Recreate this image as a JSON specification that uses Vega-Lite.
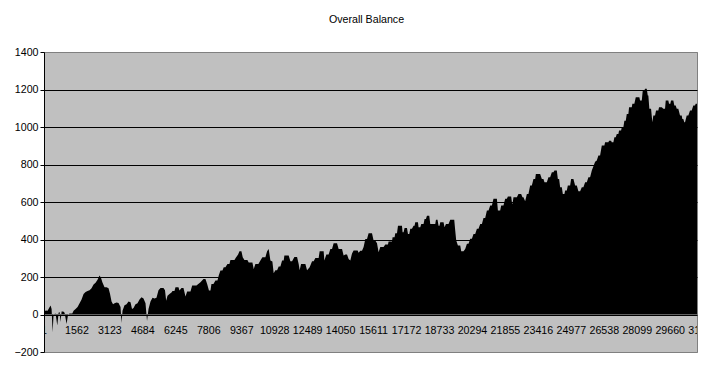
{
  "$schema": "https://vega.github.io/schema/vega-lite/v6.json",
  "width": 653,
  "height": 300,
  "autosize": {"type": "none"},
  "padding": {"left": 44, "top": 52, "right": 6, "bottom": 20},
  "background": "white",
  "title": {"text": "Overall Balance", "anchor": "middle", "frame": "group", "font": "Liberation Sans", "fontSize": 10.67, "fontWeight": "normal", "color": "black", "offset": 20, "dx": -4},
  "config": {"view": {"fill": "#C0C0C0", "stroke": "#808080", "strokeWidth": 1}, "font": "Liberation Sans"},
  "datasets": {
    "balance": [
      {"trade":1,"balance":10},{"trade":77,"balance":21},{"trade":171,"balance":20},{"trade":242,"balance":35},{"trade":313,"balance":48},{"trade":361,"balance":30},{"trade":408,"balance":-94},{"trade":455,"balance":0},{"trade":550,"balance":5},{"trade":630,"balance":-59},{"trade":692,"balance":10},{"trade":739,"balance":14},{"trade":787,"balance":-40},{"trade":834,"balance":16},{"trade":914,"balance":16},{"trade":976,"balance":10},{"trade":1070,"balance":-50},{"trade":1141,"balance":0},{"trade":1212,"balance":5},{"trade":1340,"balance":5},{"trade":1402,"balance":20},{"trade":1496,"balance":30},{"trade":1591,"balance":40},{"trade":1686,"balance":60},{"trade":1780,"balance":80},{"trade":1875,"balance":110},{"trade":1970,"balance":120},{"trade":2064,"balance":125},{"trade":2159,"balance":130},{"trade":2253,"balance":140},{"trade":2348,"balance":160},{"trade":2443,"balance":170},{"trade":2537,"balance":185},{"trade":2632,"balance":208},{"trade":2703,"balance":195},{"trade":2774,"balance":170},{"trade":2869,"balance":145},{"trade":2963,"balance":145},{"trade":3058,"balance":140},{"trade":3129,"balance":110},{"trade":3200,"balance":70},{"trade":3271,"balance":55},{"trade":3342,"balance":60},{"trade":3436,"balance":64},{"trade":3531,"balance":62},{"trade":3626,"balance":40},{"trade":3673,"balance":-45},{"trade":3720,"balance":20},{"trade":3815,"balance":50},{"trade":3910,"balance":55},{"trade":4004,"balance":70},{"trade":4099,"balance":65},{"trade":4170,"balance":30},{"trade":4241,"balance":35},{"trade":4335,"balance":55},{"trade":4430,"balance":60},{"trade":4525,"balance":80},{"trade":4619,"balance":92},{"trade":4714,"balance":85},{"trade":4809,"balance":60},{"trade":4880,"balance":-35},{"trade":4951,"balance":30},{"trade":5045,"balance":70},{"trade":5140,"balance":90},{"trade":5235,"balance":85},{"trade":5329,"balance":90},{"trade":5424,"balance":130},{"trade":5518,"balance":142},{"trade":5660,"balance":142},{"trade":5731,"balance":130},{"trade":5788,"balance":74},{"trade":5850,"balance":100},{"trade":5944,"balance":110},{"trade":6039,"balance":117},{"trade":6086,"balance":125},{"trade":6181,"balance":125},{"trade":6228,"balance":146},{"trade":6370,"balance":146},{"trade":6418,"balance":128},{"trade":6512,"balance":142},{"trade":6607,"balance":142},{"trade":6702,"balance":96},{"trade":6782,"balance":123},{"trade":6938,"balance":123},{"trade":7019,"balance":155},{"trade":7222,"balance":155},{"trade":7411,"balance":172},{"trade":7553,"balance":190},{"trade":7648,"balance":190},{"trade":7728,"balance":163},{"trade":7814,"balance":128},{"trade":7885,"balance":128},{"trade":7932,"balance":163},{"trade":8026,"balance":163},{"trade":8121,"balance":181},{"trade":8216,"balance":181},{"trade":8277,"balance":208},{"trade":8358,"balance":235},{"trade":8452,"balance":235},{"trade":8514,"balance":252},{"trade":8594,"balance":252},{"trade":8689,"balance":270},{"trade":8784,"balance":270},{"trade":8831,"balance":291},{"trade":9020,"balance":291},{"trade":9101,"balance":306},{"trade":9195,"balance":320},{"trade":9257,"balance":337},{"trade":9351,"balance":337},{"trade":9413,"balance":306},{"trade":9493,"balance":291},{"trade":9635,"balance":291},{"trade":9697,"balance":278},{"trade":9872,"balance":278},{"trade":9934,"balance":243},{"trade":10014,"balance":270},{"trade":10156,"balance":270},{"trade":10251,"balance":288},{"trade":10345,"balance":306},{"trade":10487,"balance":306},{"trade":10568,"balance":337},{"trade":10643,"balance":350},{"trade":10724,"balance":288},{"trade":10818,"balance":283},{"trade":10880,"balance":220},{"trade":10960,"balance":236},{"trade":11041,"balance":236},{"trade":11117,"balance":256},{"trade":11197,"balance":256},{"trade":11277,"balance":288},{"trade":11353,"balance":288},{"trade":11386,"balance":315},{"trade":11590,"balance":315},{"trade":11670,"balance":284},{"trade":11751,"balance":284},{"trade":11859,"balance":307},{"trade":11987,"balance":307},{"trade":12063,"balance":270},{"trade":12110,"balance":236},{"trade":12176,"balance":270},{"trade":12380,"balance":270},{"trade":12460,"balance":236},{"trade":12583,"balance":252},{"trade":12697,"balance":284},{"trade":12773,"balance":284},{"trade":12853,"balance":302},{"trade":13009,"balance":302},{"trade":13057,"balance":337},{"trade":13246,"balance":337},{"trade":13279,"balance":288},{"trade":13374,"balance":320},{"trade":13482,"balance":320},{"trade":13563,"balance":350},{"trade":13643,"balance":350},{"trade":13719,"balance":380},{"trade":13880,"balance":380},{"trade":13956,"balance":350},{"trade":14117,"balance":350},{"trade":14192,"balance":315},{"trade":14273,"balance":320},{"trade":14353,"balance":320},{"trade":14429,"balance":296},{"trade":14509,"balance":288},{"trade":14590,"balance":326},{"trade":14665,"balance":342},{"trade":14855,"balance":342},{"trade":14902,"balance":330},{"trade":14982,"balance":340},{"trade":15063,"balance":340},{"trade":15139,"balance":360},{"trade":15219,"balance":403},{"trade":15300,"balance":403},{"trade":15375,"balance":434},{"trade":15536,"balance":434},{"trade":15612,"balance":395},{"trade":15692,"balance":395},{"trade":15773,"balance":380},{"trade":15848,"balance":332},{"trade":15929,"balance":360},{"trade":16085,"balance":360},{"trade":16166,"balance":373},{"trade":16293,"balance":373},{"trade":16322,"balance":389},{"trade":16483,"balance":389},{"trade":16511,"balance":412},{"trade":16606,"balance":412},{"trade":16639,"balance":434},{"trade":16719,"balance":434},{"trade":16767,"balance":474},{"trade":16956,"balance":474},{"trade":16984,"balance":439},{"trade":17032,"balance":439},{"trade":17079,"balance":462},{"trade":17192,"balance":462},{"trade":17240,"balance":430},{"trade":17301,"balance":430},{"trade":17349,"balance":457},{"trade":17429,"balance":457},{"trade":17505,"balance":474},{"trade":17552,"balance":474},{"trade":17585,"balance":492},{"trade":17713,"balance":492},{"trade":17741,"balance":466},{"trade":17822,"balance":466},{"trade":17869,"balance":483},{"trade":17978,"balance":483},{"trade":18025,"balance":510},{"trade":18091,"balance":510},{"trade":18139,"balance":527},{"trade":18248,"balance":527},{"trade":18295,"balance":483},{"trade":18532,"balance":483},{"trade":18565,"balance":505},{"trade":18640,"balance":505},{"trade":18688,"balance":474},{"trade":18735,"balance":474},{"trade":18768,"balance":492},{"trade":18924,"balance":492},{"trade":18972,"balance":466},{"trade":19038,"balance":483},{"trade":19161,"balance":483},{"trade":19241,"balance":505},{"trade":19431,"balance":505},{"trade":19478,"balance":448},{"trade":19525,"balance":395},{"trade":19606,"balance":368},{"trade":19715,"balance":368},{"trade":19762,"balance":338},{"trade":19871,"balance":338},{"trade":19951,"balance":350},{"trade":20032,"balance":377},{"trade":20107,"balance":377},{"trade":20188,"balance":404},{"trade":20268,"balance":404},{"trade":20344,"balance":430},{"trade":20424,"balance":430},{"trade":20505,"balance":457},{"trade":20581,"balance":457},{"trade":20661,"balance":483},{"trade":20741,"balance":483},{"trade":20817,"balance":515},{"trade":20898,"balance":515},{"trade":20978,"balance":555},{"trade":21054,"balance":555},{"trade":21134,"balance":581},{"trade":21215,"balance":581},{"trade":21290,"balance":617},{"trade":21451,"balance":617},{"trade":21499,"balance":555},{"trade":21607,"balance":555},{"trade":21655,"balance":581},{"trade":21763,"balance":581},{"trade":21844,"balance":617},{"trade":21924,"balance":617},{"trade":21972,"balance":629},{"trade":22128,"balance":629},{"trade":22161,"balance":600},{"trade":22189,"balance":590},{"trade":22237,"balance":626},{"trade":22398,"balance":626},{"trade":22473,"balance":643},{"trade":22601,"balance":643},{"trade":22663,"balance":626},{"trade":22710,"balance":626},{"trade":22790,"balance":604},{"trade":22871,"balance":643},{"trade":22946,"balance":643},{"trade":23027,"balance":688},{"trade":23107,"balance":688},{"trade":23183,"balance":723},{"trade":23264,"balance":723},{"trade":23297,"balance":750},{"trade":23500,"balance":750},{"trade":23581,"balance":723},{"trade":23656,"balance":723},{"trade":23704,"balance":706},{"trade":23817,"balance":706},{"trade":23893,"balance":732},{"trade":23973,"balance":732},{"trade":24054,"balance":759},{"trade":24130,"balance":759},{"trade":24177,"balance":768},{"trade":24290,"balance":768},{"trade":24338,"balance":723},{"trade":24399,"balance":723},{"trade":24447,"balance":679},{"trade":24527,"balance":679},{"trade":24574,"balance":643},{"trade":24650,"balance":643},{"trade":24683,"balance":661},{"trade":24764,"balance":661},{"trade":24811,"balance":688},{"trade":24920,"balance":688},{"trade":24967,"balance":723},{"trade":25076,"balance":723},{"trade":25156,"balance":688},{"trade":25237,"balance":688},{"trade":25312,"balance":657},{"trade":25393,"balance":657},{"trade":25473,"balance":679},{"trade":25549,"balance":679},{"trade":25630,"balance":706},{"trade":25710,"balance":706},{"trade":25786,"balance":732},{"trade":25866,"balance":732},{"trade":25947,"balance":768},{"trade":26103,"balance":815},{"trade":26183,"balance":821},{"trade":26259,"balance":848},{"trade":26339,"balance":848},{"trade":26420,"balance":901},{"trade":26543,"balance":901},{"trade":26576,"balance":919},{"trade":26732,"balance":919},{"trade":26765,"balance":927},{"trade":26860,"balance":927},{"trade":26893,"balance":919},{"trade":26969,"balance":919},{"trade":27016,"balance":945},{"trade":27082,"balance":945},{"trade":27130,"balance":963},{"trade":27205,"balance":963},{"trade":27238,"balance":981},{"trade":27333,"balance":981},{"trade":27366,"balance":999},{"trade":27442,"balance":999},{"trade":27489,"balance":1034},{"trade":27555,"balance":1034},{"trade":27603,"balance":1070},{"trade":27678,"balance":1070},{"trade":27712,"balance":1106},{"trade":27839,"balance":1106},{"trade":27868,"balance":1124},{"trade":27962,"balance":1124},{"trade":28029,"balance":1159},{"trade":28199,"balance":1159},{"trade":28232,"balance":1141},{"trade":28313,"balance":1141},{"trade":28360,"balance":1195},{"trade":28436,"balance":1195},{"trade":28469,"balance":1204},{"trade":28549,"balance":1204},{"trade":28597,"balance":1168},{"trade":28625,"balance":1168},{"trade":28672,"balance":1097},{"trade":28753,"balance":1097},{"trade":28814,"balance":1026},{"trade":28861,"balance":1061},{"trade":28942,"balance":1061},{"trade":28989,"balance":1088},{"trade":29098,"balance":1088},{"trade":29131,"balance":1106},{"trade":29259,"balance":1106},{"trade":29335,"balance":1097},{"trade":29415,"balance":1097},{"trade":29448,"balance":1141},{"trade":29571,"balance":1141},{"trade":29604,"balance":1124},{"trade":29666,"balance":1124},{"trade":29699,"balance":1141},{"trade":29808,"balance":1141},{"trade":29855,"balance":1115},{"trade":29921,"balance":1115},{"trade":29969,"balance":1097},{"trade":30044,"balance":1097},{"trade":30125,"balance":1061},{"trade":30205,"balance":1061},{"trade":30234,"balance":1043},{"trade":30281,"balance":1043},{"trade":30328,"balance":1026},{"trade":30362,"balance":1026},{"trade":30442,"balance":1061},{"trade":30518,"balance":1061},{"trade":30598,"balance":1088},{"trade":30679,"balance":1088},{"trade":30754,"balance":1115},{"trade":30835,"balance":1115},{"trade":30868,"balance":1124},{"trade":30929,"balance":1124}
    ],
    "ticks": [
      {"tick":1},{"tick":1562},{"tick":3123},{"tick":4684},{"tick":6245},{"tick":7806},{"tick":9367},{"tick":10928},{"tick":12489},{"tick":14050},{"tick":15611},{"tick":17172},{"tick":18733},{"tick":20294},{"tick":21855},{"tick":23416},{"tick":24977},{"tick":26538},{"tick":28099},{"tick":29660},{"tick":31221}
    ]
  },
  "layer": [
    {
      "data": {"name": "balance"},
      "mark": {"type": "area", "color": "black", "clip": true, "interpolate": "linear"},
      "encoding": {
        "x": {"field": "trade", "type": "quantitative", "scale": {"domain": [1, 30929], "nice": false, "zero": false}, "axis": null},
        "y": {
          "field": "balance", "type": "quantitative",
          "scale": {"domain": [-200, 1400], "nice": false},
          "axis": {
            "values": [-200, 0, 200, 400, 600, 800, 1000, 1200, 1400],
            "tickCount": 9, "labelOverlap": false,
            "title": null, "grid": true,
            "gridColor": {"condition": {"test": "datum.value == 1400 || datum.value == -200", "value": "#808080"}, "value": "black"},
            "gridWidth": 1, "gridOpacity": 1,
            "domainColor": "black", "tickColor": "black", "tickSize": 4, "labelPadding": 2,
            "labelFont": "Liberation Sans", "labelFontSize": 10.67, "labelColor": "black", "format": "d"
          }
        }
      }
    },
    {
      "data": {"name": "ticks"},
      "mark": {"type": "text", "clip": true, "dy": 16, "fontSize": 10.67, "font": "Liberation Sans", "color": "black", "align": "center", "baseline": "middle"},
      "encoding": {
        "x": {"field": "tick", "type": "quantitative", "scale": {"domain": [1, 30929], "nice": false, "zero": false}, "axis": null},
        "y": {"datum": 0, "type": "quantitative", "scale": {"domain": [-200, 1400], "nice": false}},
        "text": {"field": "tick", "type": "quantitative", "format": "d"}
      }
    }
  ]
}
